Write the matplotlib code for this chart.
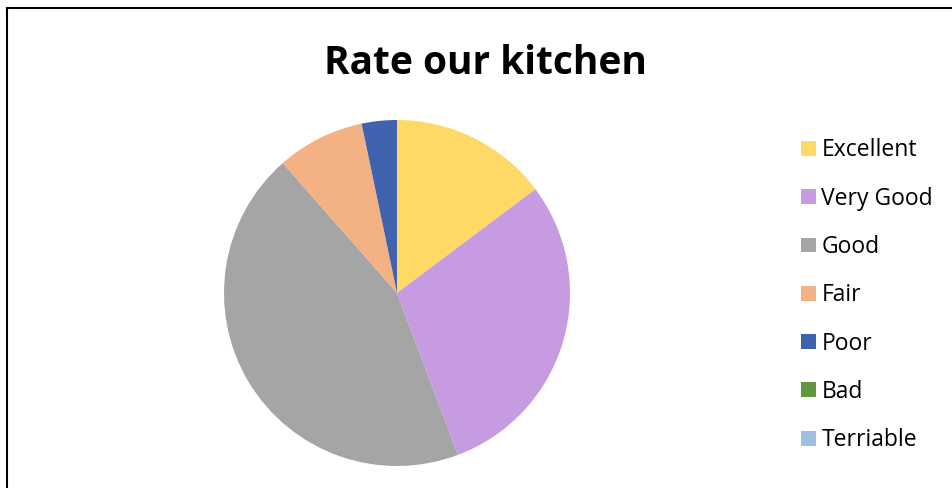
import matplotlib
matplotlib.use("Agg")
from matplotlib import pyplot as plt
from matplotlib.lines import Line2D

categories = ["Excellent", "Very Good", "Good", "Fair", "Poor", "Bad", "Terriable"]
counts = [9, 18, 27, 5, 2, 0, 0]
colors = ["#FFD966", "#C79BE2", "#A5A5A5", "#F4B183", "#3F63AE", "#5E9A3C", "#9DBFE1"]
title = "Rate our kitchen"

plt.rcParams["font.family"] = ["Open Sans", "DejaVu Sans"]

W, H = 952, 488
fig = plt.figure(figsize=(W / 100, H / 100), dpi=100)

# chart frame, only left and top edges are visible in the crop
fig.add_artist(Line2D([6.5 / W, 6.5 / W], [0, 1 - 8 / H], color="black", lw=1.5, transform=fig.transFigure))
fig.add_artist(Line2D([6.5 / W, 1], [1 - 8 / H, 1 - 8 / H], color="black", lw=1.5, transform=fig.transFigure))

cx, cy, r = 397, 293, 173
ax = fig.add_axes([(cx - r) / W, (H - cy - r) / H, 2 * r / W, 2 * r / H])
wedges, _ = ax.pie(counts, colors=colors, startangle=90, counterclock=False,
                   wedgeprops={"linewidth": 0})
ax.set_xlim(-1, 1)
ax.set_ylim(-1, 1)
ax.set_aspect("equal")

fig.text(485 / W, 1 - 63 / H, title, ha="center", va="center",
         fontsize=28, fontweight="bold")

fig.legend(wedges, categories, loc="upper left", bbox_to_anchor=(790 / W, 1 - 127 / H),
           frameon=False, fontsize=16.5, handlelength=0.62, handleheight=0.62,
           handletextpad=0.25, labelspacing=1.06, borderpad=0)

fig.savefig("out.png", dpi=100)
